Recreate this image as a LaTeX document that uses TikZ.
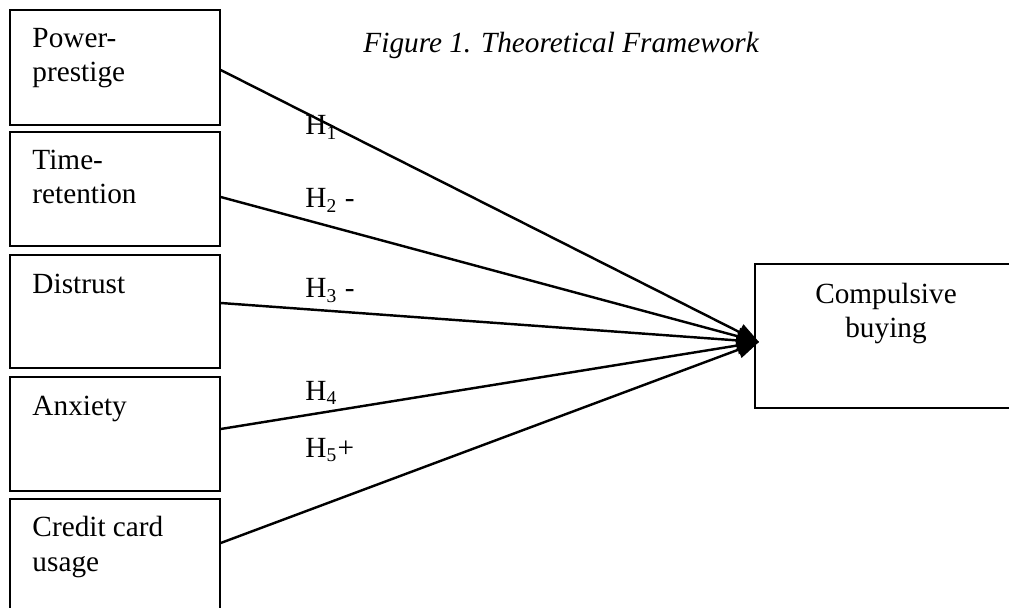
\documentclass[tikz,border=0pt]{standalone}
\usepackage{fontspec}
\setmainfont{Liberation Serif}
\usepackage{tikz}
\usetikzlibrary{arrows.meta,positioning}

\begin{document}
\begin{tikzpicture}[
    x=0.41pt, y=-0.41pt,
    font=\fontsize{12}{14}\selectfont,
    box/.style={rectangle, draw, line width=0.6pt, minimum width=86.1pt, inner sep=0pt},
    txt/.style={anchor=base west, align=left, inner sep=0pt},
    hyp/.style={anchor=base west, inner sep=0pt},
    link/.style={line width=1pt, -{Triangle[length=9pt,width=7pt]}}
]
    \useasboundingbox (0,0) rectangle (1009,608);
    \clip (0,0) rectangle (1009,608);

    % predictors
    \node[box, minimum height=47.15pt] (pp) at (115,67.5) {};
    \node[box, minimum height=46.7pt] (tr) at (115,189) {};
    \node[box, minimum height=46.3pt] (dt) at (115,311.5) {};
    \node[box, minimum height=46.7pt] (ax) at (115,434) {};
    \node[box, minimum height=47.15pt] (cc) at (115,556.5) {};

    % base anchor sits on the last line
    \node[txt] (ppt) at (32,82) {Power-\\prestige};
    \node[txt] (trt) at (32,204) {Time-\\retention};
    \node[txt] (dtt) at (32,293) {Distrust};
    \node[txt] (axt) at (32,416) {Anxiety};
    \node[txt] (cct) at (32,571) {Credit card\\usage};

    % outcome
    \node[box, minimum width=108.65pt, minimum height=59pt] (cb) at (887.5,336) {};
    \node[anchor=base, align=center, inner sep=0pt] (cbt) at (886,338) {Compulsive\\buying};

    \node[hyp, font=\fontsize{12}{14}\selectfont\itshape] (title) at (363,53) {Figure 1. Theoretical Framework};

    % paths
    \coordinate (tip) at (759,342);
    \draw[link] (pp.east |- 0,70) -- (tip);
    \draw[link] (tr.east |- 0,197) -- (tip);
    \draw[link] (dt.east |- 0,303) -- (tip);
    \draw[link] (ax.east |- 0,429) -- (tip);
    \draw[link] (cc.east |- 0,543) -- (tip);

    \node[hyp] (h1) at (305,135) {H\textsubscript{1}};
    \node[hyp] (h2) at (305,208) {H\textsubscript{2} -};
    \node[hyp] (h3) at (305,298) {H\textsubscript{3} -};
    \node[hyp] (h4) at (305,400) {H\textsubscript{4}};
    \node[hyp] (h5) at (305,457) {H\textsubscript{5}+};
\end{tikzpicture}
\end{document}
